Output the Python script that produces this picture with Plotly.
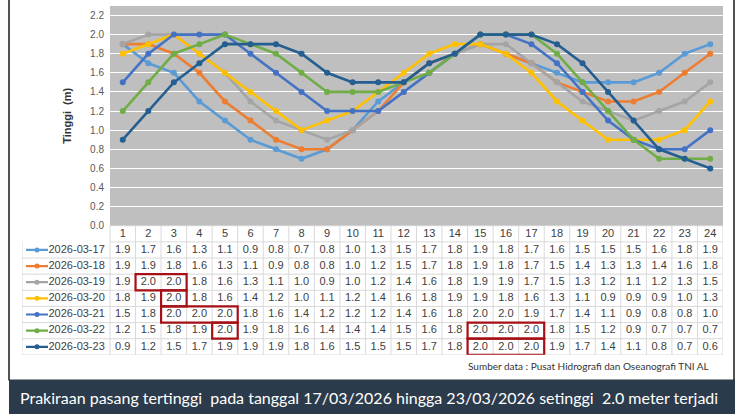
import plotly.graph_objects as go

hours = list(range(1, 25))
dates = ["2026-03-17", "2026-03-18", "2026-03-19", "2026-03-20",
         "2026-03-21", "2026-03-22", "2026-03-23"]
d17 = [1.9, 1.7, 1.6, 1.3, 1.1, 0.9, 0.8, 0.7, 0.8, 1.0, 1.3, 1.5, 1.7, 1.8, 1.9, 1.8, 1.7, 1.6, 1.5, 1.5, 1.5, 1.6, 1.8, 1.9]
d18 = [1.9, 1.9, 1.8, 1.6, 1.3, 1.1, 0.9, 0.8, 0.8, 1.0, 1.2, 1.5, 1.7, 1.8, 1.9, 1.8, 1.7, 1.5, 1.4, 1.3, 1.3, 1.4, 1.6, 1.8]
d19 = [1.9, 2.0, 2.0, 1.8, 1.6, 1.3, 1.1, 1.0, 0.9, 1.0, 1.2, 1.4, 1.6, 1.8, 1.9, 1.9, 1.7, 1.5, 1.3, 1.2, 1.1, 1.2, 1.3, 1.5]
d20 = [1.8, 1.9, 2.0, 1.8, 1.6, 1.4, 1.2, 1.0, 1.1, 1.2, 1.4, 1.6, 1.8, 1.9, 1.9, 1.8, 1.6, 1.3, 1.1, 0.9, 0.9, 0.9, 1.0, 1.3]
d21 = [1.5, 1.8, 2.0, 2.0, 2.0, 1.8, 1.6, 1.4, 1.2, 1.2, 1.2, 1.4, 1.6, 1.8, 2.0, 2.0, 1.9, 1.7, 1.4, 1.1, 0.9, 0.8, 0.8, 1.0]
d22 = [1.2, 1.5, 1.8, 1.9, 2.0, 1.9, 1.8, 1.6, 1.4, 1.4, 1.4, 1.5, 1.6, 1.8, 2.0, 2.0, 2.0, 1.8, 1.5, 1.2, 0.9, 0.7, 0.7, 0.7]
d23 = [0.9, 1.2, 1.5, 1.7, 1.9, 1.9, 1.9, 1.8, 1.6, 1.5, 1.5, 1.5, 1.7, 1.8, 2.0, 2.0, 2.0, 1.9, 1.7, 1.4, 1.1, 0.8, 0.7, 0.6]
series = [d17, d18, d19, d20, d21, d22, d23]
colors = ["#5B9BD5", "#ED7D31", "#A5A5A5", "#FFC000", "#4472C4", "#70AD47", "#255E91"]
# highlighted cells: (row index 1-based, first hour, last hour)
highlights = [(3, 2, 3), (4, 3, 3), (5, 3, 5), (6, 5, 5), (6, 15, 17), (7, 15, 17)]
y_ticks = [0.0, 0.2, 0.4, 0.6, 0.8, 1.0, 1.2, 1.4, 1.6, 1.8, 2.0, 2.2]

W, H = 750, 420
plot_l, plot_r, plot_t, plot_b = 110, 723, 6, 229
tab_l, tab_b = 22, 360
colw = (plot_r - plot_l) / 24
x2_min = 0.5 - (plot_l - tab_l) / colw

def px2x(px):
    return x2_min + (px - tab_l) / colw

fig = go.Figure()

for name, vals, c in zip(dates, series, colors):
    fig.add_trace(go.Scatter(x=hours, y=vals, mode="lines+markers", name=name,
                             line=dict(color=c, width=2.6),
                             marker=dict(size=6, color=c),
                             showlegend=False, hoverinfo="skip",
                             xaxis="x", yaxis="y"))

tfont = dict(family="Liberation Sans, Arial", size=11, color="#404040")
fig.add_trace(go.Scatter(x=hours, y=[0] * 24, mode="text", text=[str(h) for h in hours],
                         textfont=tfont, showlegend=False, hoverinfo="skip", xaxis="x2", yaxis="y2"))
for i, (name, vals, c) in enumerate(zip(dates, series, colors)):
    r = i + 1
    fig.add_trace(go.Scatter(x=hours, y=[r] * 24, mode="text",
                             text=[f"{v:.1f}" for v in vals], textfont=tfont,
                             showlegend=False, hoverinfo="skip", xaxis="x2", yaxis="y2"))
    fig.add_trace(go.Scatter(x=[px2x(26), px2x(48)], y=[r, r], mode="lines",
                             line=dict(color=c, width=2.2),
                             showlegend=False, hoverinfo="skip", xaxis="x2", yaxis="y2"))
    fig.add_trace(go.Scatter(x=[px2x(37)], y=[r], mode="markers",
                             marker=dict(color=c, size=5),
                             showlegend=False, hoverinfo="skip", xaxis="x2", yaxis="y2"))
    fig.add_trace(go.Scatter(x=[px2x(48.5)], y=[r], mode="text", text=[name],
                             textposition="middle right", textfont=tfont,
                             showlegend=False, hoverinfo="skip", xaxis="x2", yaxis="y2"))

shapes = []
shapes.append(dict(type="rect", xref="x domain", yref="y domain", x0=0, x1=1, y0=0, y1=1,
                   fillcolor="#BFBFBF", line=dict(width=0), layer="below"))
grid = "#D9D9D9"
for k in range(0, 9):
    yk = k - 0.5
    x0 = 0.5 if k <= 1 else x2_min
    shapes.append(dict(type="line", xref="x2", yref="y2", x0=x0, x1=24.5, y0=yk, y1=yk,
                       line=dict(color=grid, width=1)))
for h in range(0, 25):
    xv = h + 0.5
    shapes.append(dict(type="line", xref="x2", yref="y2", x0=xv, x1=xv, y0=-0.5, y1=7.5,
                       line=dict(color=grid, width=1)))
shapes.append(dict(type="line", xref="x2", yref="y2", x0=x2_min, x1=x2_min, y0=0.5, y1=7.5,
                   line=dict(color=grid, width=1)))
for (r, a, b) in highlights:
    shapes.append(dict(type="rect", xref="x2", yref="y2", x0=a - 0.5, x1=b + 0.5,
                       y0=r - 0.5, y1=r + 0.5, line=dict(color="#A50F15", width=2.2)))
# frame lines
shapes.append(dict(type="line", xref="paper", yref="paper", x0=9 / W, x1=9 / W,
                   y0=1 - 386 / H, y1=1, line=dict(color="#1A1A1A", width=1.5)))
shapes.append(dict(type="line", xref="paper", yref="paper", x0=734 / W, x1=734 / W,
                   y0=1 - 386 / H, y1=1, line=dict(color="#1A1A1A", width=1.5)))
# banner
shapes.append(dict(type="rect", xref="paper", yref="paper", x0=9 / W, x1=735 / W,
                   y0=0, y1=1 - 385 / H, fillcolor="#2C3B4B", line=dict(width=0)))

annotations = [
    dict(text="<b>Tinggi  (m)</b>", x=67 / W, y=1 - 117.5 / H, xref="paper", yref="paper",
         xanchor="center", yanchor="middle",
         textangle=-90, showarrow=False, font=dict(family="Liberation Sans, Arial", size=11, color="#333333")),
    dict(text="Sumber data : Pusat Hidrografi dan Oseanografi TNI AL", x=711 / W, y=1 - 371 / H,
         xref="paper", yref="paper", xanchor="right", yanchor="middle", showarrow=False,
         font=dict(family="Lato", size=10, color="#333333")),
    dict(text="Prakiraan pasang tertinggi  pada tanggal 17/03/2026 hingga 23/03/2026 setinggi  2.0 meter terjadi",
         x=18 / W, y=1 - 403 / H, xref="paper", yref="paper", xanchor="left", yanchor="middle",
         showarrow=False, font=dict(family="Lato", size=16, color="white")),
]

fig.update_layout(
    width=W, height=H, margin=dict(l=0, r=0, t=0, b=0),
    paper_bgcolor="white", plot_bgcolor="rgba(0,0,0,0)",
    xaxis=dict(domain=[plot_l / W, plot_r / W], range=[0.5, 24.5], showticklabels=False,
               showgrid=False, zeroline=False, ticks="", anchor="y"),
    yaxis=dict(domain=[1 - plot_b / H, 1 - plot_t / H], range=[0, 2.3], tickvals=y_ticks,
               tickformat=".1f", showgrid=True, gridcolor="white", gridwidth=1,
               zeroline=False, showline=False, ticks="", ticklabelstandoff=5,
               tickfont=dict(family="Liberation Sans, Arial", size=10, color="#595959"), anchor="x"),
    xaxis2=dict(domain=[tab_l / W, plot_r / W], range=[x2_min, 24.5], visible=False, anchor="y2"),
    yaxis2=dict(domain=[1 - tab_b / H, 1 - plot_b / H], range=[7.5, -0.5], visible=False, anchor="x2"),
    shapes=shapes, annotations=annotations,
)

fig.write_html("out.html")
